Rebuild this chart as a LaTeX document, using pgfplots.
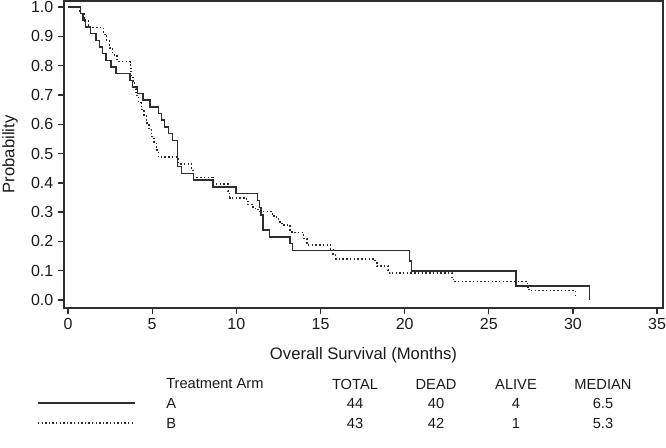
\documentclass[border=0pt]{standalone}
\usepackage{pgfplots}
\pgfplotsset{compat=1.18}
\usepackage{pgfplotstable}
\usepackage{fontspec}
\setmainfont{Liberation Sans}
\definecolor{ink}{HTML}{2E2E2E}
\definecolor{txt}{HTML}{1A1A1A}

\pgfplotstableread{
t p
0 1.0
0.75 0.977
0.9 0.955
1.05 0.932
1.35 0.909
1.66 0.886
1.86 0.864
2.06 0.841
2.25 0.818
2.55 0.795
2.85 0.773
3.68 0.750
3.84 0.727
4.12 0.705
4.45 0.682
4.87 0.659
5.37 0.636
5.55 0.614
5.72 0.591
5.96 0.568
6.22 0.545
6.5 0.455
6.75 0.432
7.45 0.409
8.6 0.386
9.98 0.363
11.25 0.339
11.37 0.316
11.47 0.290
11.57 0.239
11.96 0.216
13.19 0.193
13.35 0.170
20.28 0.134
20.42 0.100
26.62 0.048
30.98 0.000
}\armA

\pgfplotstableread{
t p
0 1.0
0.7 0.977
0.95 0.953
1.2 0.930
2.1 0.907
2.3 0.884
2.45 0.860
2.65 0.837
2.9 0.814
3.7 0.791
3.75 0.767
3.85 0.744
3.95 0.721
4.05 0.698
4.2 0.674
4.35 0.651
4.5 0.628
4.65 0.605
4.8 0.581
4.95 0.558
5.1 0.535
5.25 0.512
5.37 0.488
6.55 0.465
7.35 0.442
7.45 0.419
8.6 0.396
9.5 0.372
9.6 0.349
10.6 0.337
10.7 0.326
11.0 0.313
11.3 0.302
12.15 0.287
12.4 0.277
12.6 0.267
12.7 0.256
13.2 0.239
13.3 0.230
14.0 0.210
14.2 0.188
15.6 0.171
15.75 0.155
15.9 0.140
18.25 0.127
18.35 0.116
19.0 0.102
19.1 0.092
22.8 0.075
22.9 0.063
27.3 0.043
27.4 0.032
30.15 0.011
}\armB

\begin{document}
\begin{tikzpicture}
\path[use as bounding box] (0,0) rectangle (499.5pt,335.25pt);
\begin{axis}[
  at={(48pt,104.25pt)}, anchor=south west,
  scale only axis, width=449.25pt, height=230.25pt,
  xmin=-0.24, xmax=35.35, ymin=-0.027, ymax=1.0205,
  xtick={0,5,10,15,20,25,30,35},
  ytick={0,0.1,0.2,0.3,0.4,0.5,0.6,0.7,0.8,0.9,1.0},
  yticklabel style={/pgf/number format/.cd, fixed, fixed zerofill, precision=1},
  /pgf/number format/assume math mode=true,
  tick align=outside, xtick pos=bottom, ytick pos=left,
  major tick length=4.5pt,
  axis line style={ink, line width=1pt},
  every tick/.style={ink, line width=1pt},
  ticklabel style={font=\fontsize{12}{14}\selectfont, text=txt},
  xlabel={Overall Survival (Months)},
  ylabel={Probability},
  xlabel style={at={(axis description cs:0.5,-0.153)}, anchor=center, font=\fontsize{12.5}{15}\selectfont, text=txt},
  ylabel style={at={(axis description cs:-0.090,0.5)}, anchor=center, font=\fontsize{12.5}{15}\selectfont, text=txt},
]
\addplot[const plot, ink, line width=1.1pt] table[x=t, y=p] {\armA};
\addplot[const plot, ink, line width=1.1pt, dash pattern=on 1.1pt off 1.7pt] table[x=t, y=p] {\armB};
\end{axis}
% legend table
\begin{scope}[every node/.style={font=\fontsize{11}{13}\selectfont, text=txt, inner sep=0pt}]
\node[anchor=west] at (124.5pt,47.25pt) {Treatment Arm};
\node at (266.25pt,47.25pt) {TOTAL};
\node at (327pt,47.25pt) {DEAD};
\node at (387pt,47.25pt) {ALIVE};
\node at (452.25pt,47.25pt) {MEDIAN};
\draw[ink, line width=0.9pt] (28.5pt,33pt) -- (101.25pt,33pt);
\node[anchor=west] at (124.5pt,33pt) {A};
\node at (266.25pt,33pt) {44};
\node at (327pt,33pt) {40};
\node at (387pt,33pt) {4};
\node at (452.25pt,33pt) {6.5};
\draw[ink, line width=0.9pt, dash pattern=on 1pt off 1.7pt] (28.5pt,18pt) -- (101.25pt,18pt);
\node[anchor=west] at (124.5pt,18pt) {B};
\node at (266.25pt,18pt) {43};
\node at (327pt,18pt) {42};
\node at (387pt,18pt) {1};
\node at (452.25pt,18pt) {5.3};
\end{scope}
\end{tikzpicture}
\end{document}
